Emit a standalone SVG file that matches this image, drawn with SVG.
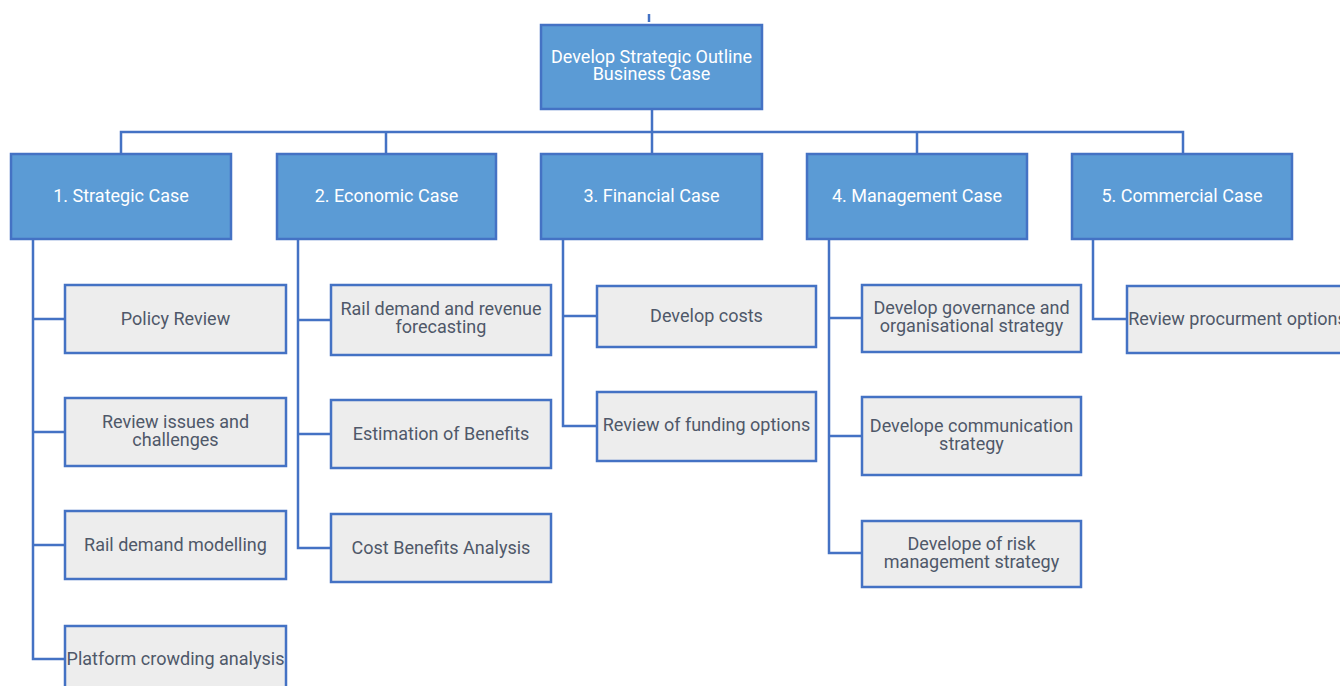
<svg xmlns="http://www.w3.org/2000/svg" width="1340" height="686" viewBox="0 0 1340 686">
<style>
.b{fill:#5B9BD5;stroke:#4472C4;stroke-width:2.5}
.g{fill:#EDEDED;stroke:#4472C4;stroke-width:2.5}
.tw{font-family:Roboto,"Liberation Sans",sans-serif;font-size:18px;fill:#FFFFFF;text-anchor:middle}
.tg{font-family:Roboto,"Liberation Sans",sans-serif;font-size:18px;fill:#4F5869;text-anchor:middle}
.c{fill:none;stroke:#4472C4;stroke-width:2.5}
</style>
<rect width="1340" height="686" fill="#FFFFFF"/>
<g id="connectors">
<path class="c" d="M649 14V22"/>
<path class="c" d="M652 109V154M121 154V132H1183V154M386 132V154M917 132V154"/>
<path class="c" d="M33 239V659H65M33 319H65M33 432H65M33 545H65"/>
<path class="c" d="M298 239V548H331M298 320H331M298 434H331"/>
<path class="c" d="M563 239V426H597M563 316H597"/>
<path class="c" d="M829 239V553H862M829 318H862M829 436H862"/>
<path class="c" d="M1093 239V319H1127"/>
</g>
<g id="root"><rect class="b" x="541" y="25" width="221" height="84"/><text class="tw" x="651.5" y="63">Develop Strategic Outline</text><text class="tw" x="651.5" y="80">Business Case</text></g>
<g id="n1"><rect class="b" x="11" y="154" width="220" height="85"/><text class="tw" x="121" y="202">1. Strategic Case</text></g>
<g id="n2"><rect class="b" x="277" y="154" width="219" height="85"/><text class="tw" x="386.5" y="202">2. Economic Case</text></g>
<g id="n3"><rect class="b" x="541" y="154" width="221" height="85"/><text class="tw" x="651.5" y="202">3. Financial Case</text></g>
<g id="n4"><rect class="b" x="807" y="154" width="220" height="85"/><text class="tw" x="917" y="202">4. Management Case</text></g>
<g id="n5"><rect class="b" x="1072" y="154" width="220" height="85"/><text class="tw" x="1182" y="202">5. Commercial Case</text></g>
<g id="n1a"><rect class="g" x="65" y="285" width="221" height="68"/><text class="tg" x="175.5" y="325">Policy Review</text></g>
<g id="n1b"><rect class="g" x="65" y="398" width="221" height="68"/><text class="tg" x="175.5" y="428">Review issues and</text><text class="tg" x="175.5" y="446">challenges</text></g>
<g id="n1c"><rect class="g" x="65" y="511" width="221" height="68"/><text class="tg" x="175.5" y="551">Rail demand modelling</text></g>
<g id="n1d"><rect class="g" x="65" y="626" width="221" height="70"/><text class="tg" x="175.5" y="665">Platform crowding analysis</text></g>
<g id="n2a"><rect class="g" x="331" y="285" width="220" height="70"/><text class="tg" x="441" y="315">Rail demand and revenue</text><text class="tg" x="441" y="333">forecasting</text></g>
<g id="n2b"><rect class="g" x="331" y="400" width="220" height="68"/><text class="tg" x="441" y="440">Estimation of Benefits</text></g>
<g id="n2c"><rect class="g" x="331" y="514" width="220" height="68"/><text class="tg" x="441" y="554">Cost Benefits Analysis</text></g>
<g id="n3a"><rect class="g" x="597" y="286" width="219" height="61"/><text class="tg" x="706.5" y="322">Develop costs</text></g>
<g id="n3b"><rect class="g" x="597" y="392" width="219" height="69"/><text class="tg" x="706.5" y="431">Review of funding options</text></g>
<g id="n4a"><rect class="g" x="862" y="285" width="219" height="67"/><text class="tg" x="971.5" y="314">Develop governance and</text><text class="tg" x="971.5" y="332">organisational strategy</text></g>
<g id="n4b"><rect class="g" x="862" y="397" width="219" height="78"/><text class="tg" x="971.5" y="432">Develope communication</text><text class="tg" x="971.5" y="450">strategy</text></g>
<g id="n4c"><rect class="g" x="862" y="521" width="219" height="66"/><text class="tg" x="971.5" y="550">Develope of risk</text><text class="tg" x="971.5" y="568">management strategy</text></g>
<g id="n5a"><rect class="g" x="1127" y="286" width="221" height="67"/><text class="tg" x="1237.5" y="325">Review procurment options</text></g>
</svg>
